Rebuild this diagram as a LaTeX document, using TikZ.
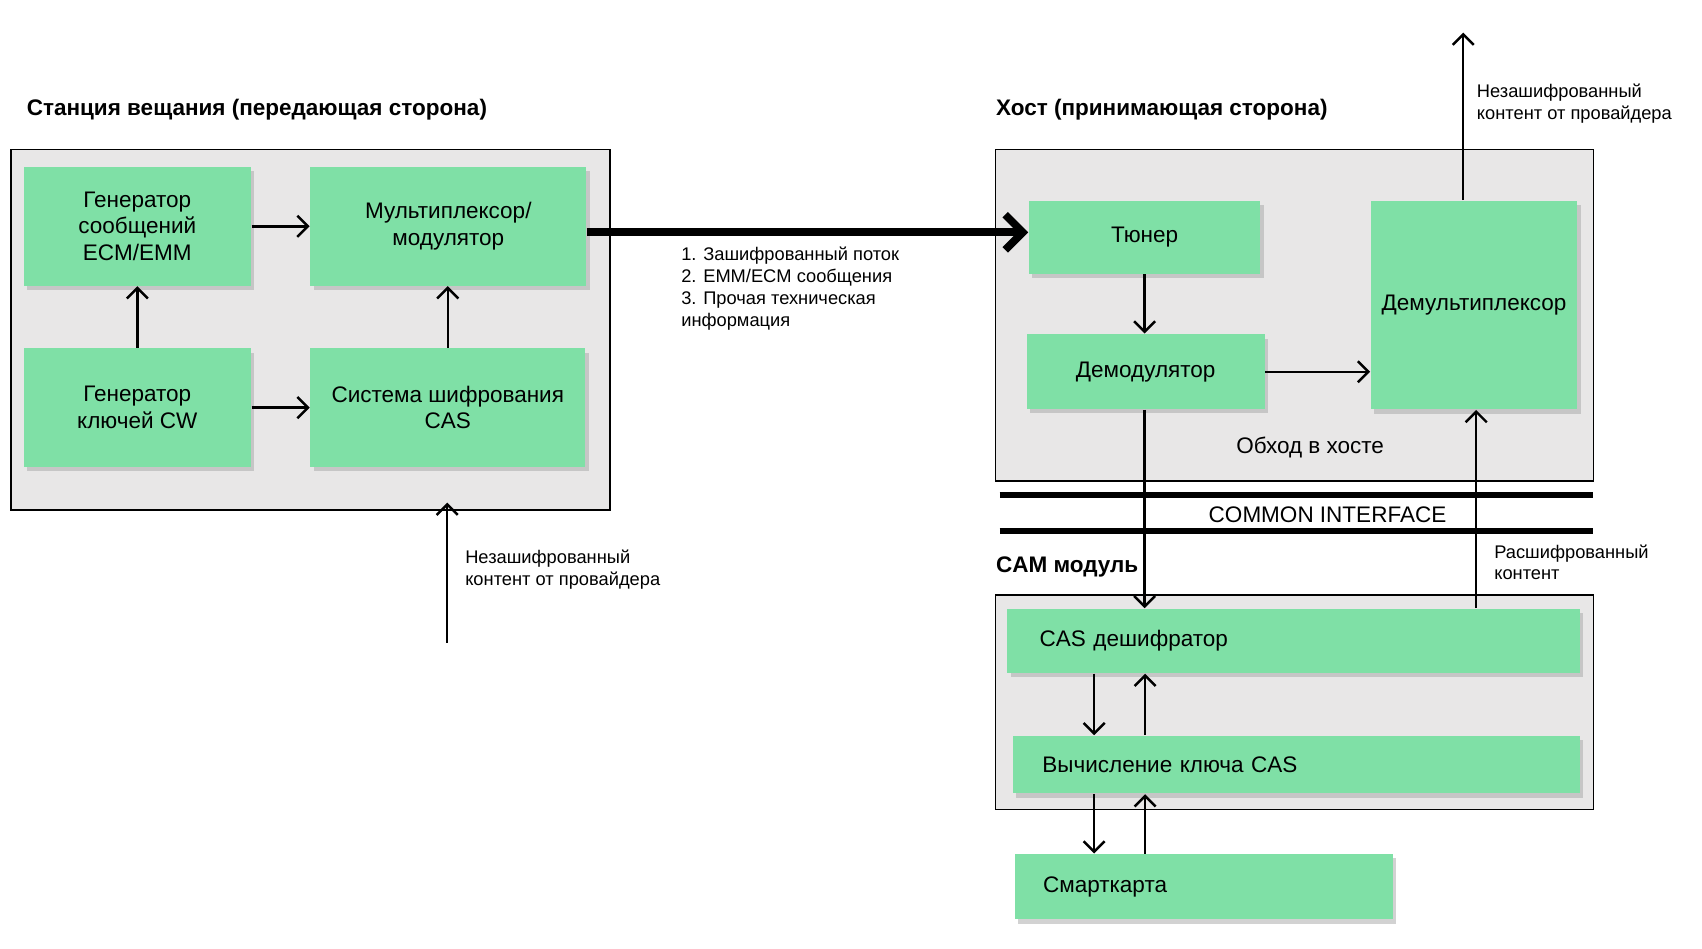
\documentclass[tikz,border=0pt]{standalone}
\usepackage{fontspec}
\setmainfont{Liberation Sans}
\usetikzlibrary{arrows.meta,shadows}
\definecolor{boxgreen}{HTML}{7FE0A6}
\definecolor{panel}{HTML}{E8E7E7}
\def\un{0.30885pt}
\begin{document}
\begin{tikzpicture}[x=0.010855cm,y=0.010855cm,
  blk/.style={fill=boxgreen,draw=none,drop shadow={shadow xshift=1pt,shadow yshift=-1.2pt,fill=black!35,opacity=.5},
    inner sep=0pt,align=center,font=\fontsize{6.4}{7.6}\selectfont},
  pnl/.style={fill=panel,draw=black,line width=.4pt},
  ar/.style={-{Straight Barb[length=3pt,width=6pt]},line width=.7pt},
  lbl/.style={font=\fontsize{5.2}{6.2}\selectfont,align=left,anchor=north west,inner sep=0pt},
  ttl/.style={font=\bfseries\fontsize{6.4}{7.6}\selectfont,anchor=west,inner sep=0pt}]
\useasboundingbox (0,0) rectangle (1568,-874);
% panels
\draw[pnl] (10,-138) rectangle (562,-470);
\draw[pnl] (917,-138) rectangle (1468,-443);
\draw[pnl] (917,-548) rectangle (1468,-746);
\node[ttl] (tl) at (24,-101) {Станция вещания (передающая сторона)};
\node[ttl] (th) at (917,-101) {Хост (принимающая сторона)};
\node[ttl] (tc) at (917,-522) {CAM модуль};
% transmitter side
\node[blk,minimum width=209*\un,minimum height=109*\un] (ecm) at (126.5,-208.5) {Генератор\\сообщений\\ECM/EMM};
\node[blk,minimum width=254*\un,minimum height=109*\un] (mux) at (413,-208.5) {Мультиплексор/\\модулятор};
\node[blk,minimum width=209*\un,minimum height=109*\un] (cw) at (126.5,-375.5) {Генератор\\ключей CW};
\node[blk,minimum width=253*\un,minimum height=109*\un] (cas) at (412.5,-375.5) {Система шифрования\\CAS};
\coordinate (in) at (412,-592);
% host
\node[blk,minimum width=213*\un,minimum height=67*\un] (tun) at (1054.5,-218.5) {Тюнер};
\node[blk,minimum width=219*\un,minimum height=69*\un] (dem) at (1055.5,-342.5) {Демодулятор};
\node[blk,minimum width=190*\un,minimum height=192*\un] (dmx) at (1358,-281) {Демультиплексор};
\node[font=\fontsize{6.4}{7.6}\selectfont] (byp) at (1207,-412) {Обход в хосте};
\coordinate (out) at (1348,-30);
% CAM
\node[blk,minimum width=527*\un,minimum height=59*\un,text width=467*\un,align=left] (dec) at (1191.5,-590.5) {CAS дешифратор};
\node[blk,minimum width=522*\un,minimum height=53*\un,text width=467*\un,align=left] (key) at (1194,-704.5) {Вычисление ключа CAS};
\node[blk,minimum width=348*\un,minimum height=60*\un,text width=296*\un,align=left] (sc) at (1109,-817) {Смарткарта};
% common interface
\draw[line width=1.8pt] (921,-456) -- (1468,-456);
\draw[line width=1.8pt] (921,-489) -- (1468,-489);
\node[font=\fontsize{6.4}{7.6}\selectfont] (ci) at (1223,-474) {COMMON INTERFACE};
% arrows
\draw[ar] (ecm.east) -- (mux.west);
\draw[ar] (cw.north) -- (ecm.south);
\draw[ar] (cw.east) -- (cas.west |- cw.east);
\draw[ar] (cas.north) -- (mux.south -| cas.north);
\draw[ar] (in) -- ([yshift=-10]cas.south -| in);
\draw[-{Straight Barb[length=5pt,width=10pt]},line width=2.2pt] (mux.east |- 0,-214) -- (tun.west |- 0,-214);
\draw[ar] (tun.south) -- (dem.north -| tun.south);
\draw[ar] (dem.east) -- (dmx.west |- dem.east);
\draw[ar] (dem.south -| tun.south) -- (dec.north -| tun.south);
\draw[ar] (dec.north -| 1360,0) -- (dmx.south -| 1360,0);
\draw[ar] (dmx.north -| out) -- (out);
\draw[ar] (dec.south -| 1008,0) -- (key.north -| 1008,0);
\draw[ar] (key.north -| 1055,0) -- (dec.south -| 1055,0);
\draw[ar] (key.south -| 1008,0) -- (sc.north -| 1008,0);
\draw[ar] (sc.north -| 1055,0) -- (key.south -| 1055,0);
% labels
\node[lbl] (l1) at (428,-506) {Незашифрованный\\контент от провайдера};
\node[lbl] (l2) at (627,-227) {1. Зашифрованный поток\\2. EMM/ECM сообщения\\3. Прочая техническая\\информация};
\node[lbl] (l3) at (1376,-501) {Расшифрованный\\контент};
\node[lbl] (l4) at (1360,-77) {Незашифрованный\\контент от провайдера};
\end{tikzpicture}
\end{document}
